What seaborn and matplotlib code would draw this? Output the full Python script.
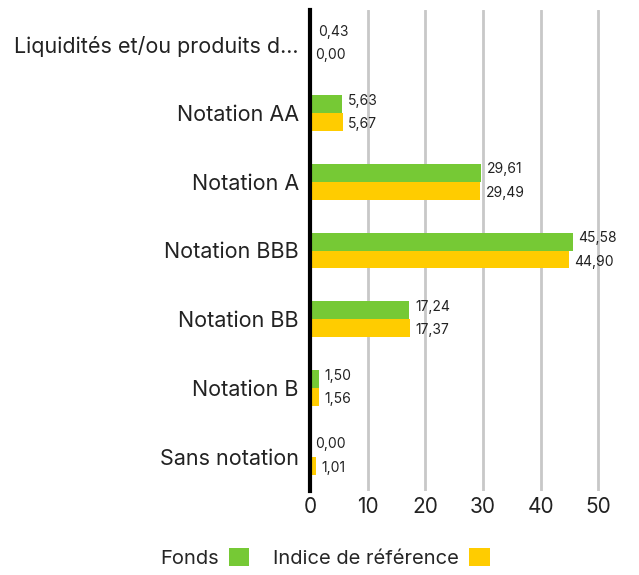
import pandas as pd
import matplotlib.pyplot as plt
import seaborn as sns
from matplotlib.patches import Patch

categories = ['Liquidités et/ou produits d...', 'Notation AA', 'Notation A', 'Notation BBB',
              'Notation BB', 'Notation B', 'Sans notation']
fonds = [0.43, 5.63, 29.61, 45.58, 17.24, 1.50, 0.00]
indice = [0.00, 5.67, 29.49, 44.90, 17.37, 1.56, 1.01]
series = ['Fonds', 'Indice de référence']
colors = ['#76C935', '#FFCC00']
xticks = [0, 10, 20, 30, 40, 50]

df = pd.DataFrame({
    'cat': categories * 2,
    'val': fonds + indice,
    'serie': [series[0]] * len(categories) + [series[1]] * len(categories),
})

sns.set_style('white')
plt.rcParams['font.family'] = ['Inter', 'DejaVu Sans']

fig = plt.figure(figsize=(6.39, 5.75), dpi=100)
ax = fig.add_axes([310 / 639, 1 - 491 / 575, 300 / 639, 481 / 575])

sns.barplot(data=df, y='cat', x='val', hue='serie', palette=colors, orient='h',
            width=0.52, ax=ax, legend=False, saturation=1, linewidth=0)

# value labels, nudged a little away from each other
for cont, dy in zip(ax.containers, [2.5, -1.5]):
    labels = [f'{v:.2f}'.replace('.', ',') for v in cont.datavalues]
    anns = ax.bar_label(cont, labels=labels, padding=4, fontsize=10, color='#222222')
    for a in anns:
        a.xyann = (4, dy)

ax.set_xlim(0, 52)
ax.set_xticks(xticks)
ax.set_xticklabels([str(t) for t in xticks], fontsize=15, color='#222222')
ax.tick_params(axis='x', length=0, pad=4)
ax.tick_params(axis='y', length=0, pad=8, labelsize=15.5, labelcolor='#222222')
ax.set_xlabel('')
ax.set_ylabel('')
ax.grid(axis='x', color='#C8C8C8', linewidth=2)
ax.set_axisbelow(True)
for s in ['top', 'right', 'bottom']:
    ax.spines[s].set_visible(False)
ax.spines['left'].set_color('black')
ax.spines['left'].set_linewidth(3)
ax.spines['left'].set_zorder(5)

handles = [Patch(facecolor=c, edgecolor='none') for c in colors]
fig.legend(handles, series, loc='center', bbox_to_anchor=(325 / 639, 1 - 558 / 575),
           ncol=2, frameon=False, markerfirst=False, fontsize=14.5,
           handlelength=1.0, handleheight=1.0, handletextpad=0.5, columnspacing=1.2)

fig.savefig('out.png', dpi=100)
